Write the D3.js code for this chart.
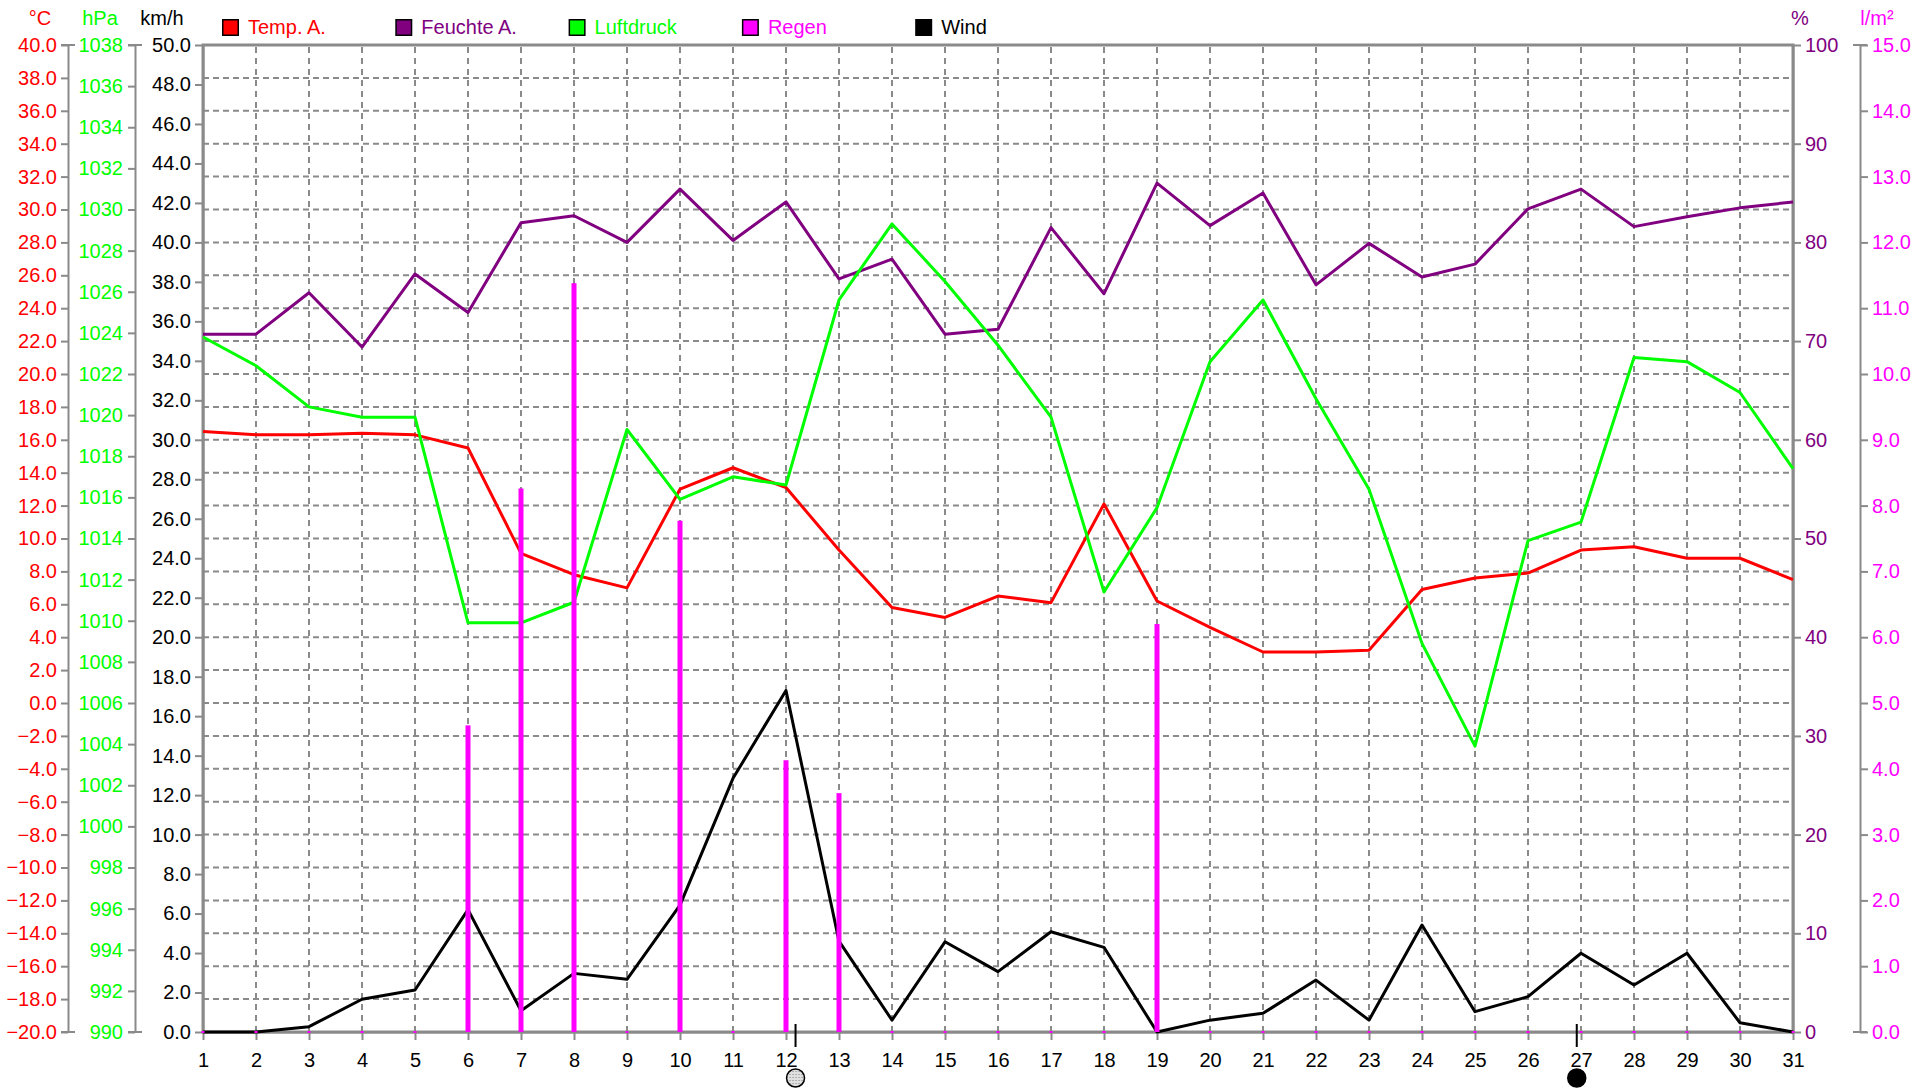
<!DOCTYPE html>
<html>
<head>
<meta charset="utf-8">
<script src="https://cdn.jsdelivr.net/npm/d3@7"></script>
<style>
  body { margin: 0; background: #fff; }
  svg { display: block; font-family: "Liberation Sans", Arial, sans-serif; }
</style>
</head>
<body>
<div id="chart"></div>
<script>
const width = 1929
const height = 1088
const plot = ({ left: 203, right: 1793, top: 45, bottom: 1032 })

// daily values
const days = [1,2,3,4,5,6,7,8,9,10,11,12,13,14,15,16,17,18,19,20,21,22,23,24,25,26,27,28,29,30,31]
const temp = [16.5,16.3,16.3,16.4,16.3,15.5,9.1,7.8,7.0,13.0,14.3,13.1,9.3,5.8,5.2,6.5,6.1,12.1,6.2,4.6,3.1,3.1,3.2,6.9,7.6,7.9,9.3,9.5,8.8,8.8,7.5]
const humidity = [70.7,70.7,74.9,69.4,76.8,72.9,82.0,82.7,80.0,85.4,80.2,84.1,76.3,78.3,70.7,71.2,81.5,74.8,86.0,81.7,85.0,75.7,79.9,76.5,77.8,83.4,85.4,81.6,82.6,83.5,84.1]
const pressure = [1023.8,1022.4,1020.4,1019.9,1019.9,1009.9,1009.9,1010.9,1019.3,1015.9,1017.0,1016.6,1025.6,1029.3,1026.5,1023.4,1019.9,1011.4,1015.5,1022.6,1025.6,1020.8,1016.4,1008.9,1003.9,1013.9,1014.8,1022.8,1022.6,1021.1,1017.4]
const rain = [0,0,0,0,0,4.66,8.26,11.38,0,7.77,0,4.13,3.63,0,0,0,0,0,6.2,0,0,0,0,0,0,0,0,0,0,0,0]
const wind = [0,0,0.27,1.66,2.13,6.2,1.08,2.97,2.67,6.43,12.85,17.3,4.6,0.6,4.57,3.06,5.08,4.29,0,0.6,0.95,2.63,0.6,5.42,1.03,1.79,3.99,2.38,3.99,0.47,0]

// axis ranges and ticks
const tempTicks = d3.range(-20, 40.1, 2)
const pressTicks = d3.range(990, 1038.1, 2)
const windTicks = d3.range(0, 50.1, 2)
const humTicks = d3.range(0, 100.1, 10)
const rainTicks = d3.range(0, 15.1, 1)

const legendItems = ['Temp. A.', 'Feuchte A.', 'Luftdruck', 'Regen', 'Wind']
const legendColors = ['#ff0000', '#800080', '#00ff00', '#ff00ff', '#000000']

// moon phases (day position)
const moons = [{ day: 12.18, phase: 'full' }, { day: 26.92, phase: 'new' }]

const gray = '#8a8a8a'
const fontSize = 20

const x = d3.scaleLinear().domain([1, 31]).range([plot.left, plot.right])
const yTemp = d3.scaleLinear().domain([-20, 40]).range([plot.bottom, plot.top])
const yPress = d3.scaleLinear().domain([990, 1038]).range([plot.bottom, plot.top])
const yWind = d3.scaleLinear().domain([0, 50]).range([plot.bottom, plot.top])
const yHum = d3.scaleLinear().domain([0, 100]).range([plot.bottom, plot.top])
const yRain = d3.scaleLinear().domain([0, 15]).range([plot.bottom, plot.top])

const svg = d3.select('#chart').append('svg')
  .attr('width', width)
  .attr('height', height)

const defs = svg.append('defs')
const pat = defs.append('pattern')
  .attr('id', 'moonhatch')
  .attr('width', 3).attr('height', 3)
  .attr('patternUnits', 'userSpaceOnUse')
pat.append('rect').attr('width', 3).attr('height', 3).attr('fill', '#e0e0e0')
pat.append('rect').attr('width', 1).attr('height', 1).attr('fill', '#808080')

// grid
svg.append('g')
  .selectAll('line')
  .data(days.slice(1, -1))
  .enter().append('line')
  .attr('x1', d => x(d)).attr('x2', d => x(d))
  .attr('y1', plot.top + 2).attr('y2', plot.bottom)
  .attr('stroke', gray)
  .attr('stroke-width', 2)
  .attr('stroke-dasharray', '6,5')

svg.append('g')
  .selectAll('line')
  .data(tempTicks.slice(1, -1))
  .enter().append('line')
  .attr('x1', plot.left).attr('x2', plot.right)
  .attr('y1', d => yTemp(d)).attr('y2', d => yTemp(d))
  .attr('stroke', gray)
  .attr('stroke-width', 2)
  .attr('stroke-dasharray', '6,4')

// axes
function styleAxis(g, color) {
  g.attr('font-size', fontSize).attr('font-family', null)
  g.select('.domain').attr('stroke', gray).attr('stroke-width', 2)
  g.selectAll('.tick line').attr('stroke', gray).attr('stroke-width', 2)
  g.selectAll('.tick text').attr('fill', color)
}

svg.append('g')
  .attr('transform', 'translate(68,0)')
  .call(d3.axisLeft(yTemp).tickValues(tempTicks).tickFormat(d3.format('.1f')).tickSize(7).tickSizeOuter(0).tickPadding(4))
  .call(g => styleAxis(g, '#ff0000'))

svg.append('g')
  .attr('transform', 'translate(135,0)')
  .call(d3.axisLeft(yPress).tickValues(pressTicks).tickFormat(d3.format('d')).tickSize(7).tickSizeOuter(0).tickPadding(5))
  .call(g => styleAxis(g, '#00ff00'))

svg.append('g')
  .attr('transform', 'translate(' + plot.left + ',0)')
  .call(d3.axisLeft(yWind).tickValues(windTicks).tickFormat(d3.format('.1f')).tickSize(8).tickSizeOuter(0).tickPadding(4))
  .call(g => styleAxis(g, '#000000'))

svg.append('g')
  .attr('transform', 'translate(' + plot.right + ',0)')
  .call(d3.axisRight(yHum).tickValues(humTicks).tickFormat(d3.format('d')).tickSize(8).tickSizeOuter(0).tickPadding(4))
  .call(g => styleAxis(g, '#800080'))

svg.append('g')
  .attr('transform', 'translate(1860,0)')
  .call(d3.axisRight(yRain).tickValues(rainTicks).tickFormat(d3.format('.1f')).tickSize(8).tickSizeOuter(0).tickPadding(4))
  .call(g => styleAxis(g, '#ff00ff'))

svg.append('g')
  .attr('transform', 'translate(0,' + plot.bottom + ')')
  .call(d3.axisBottom(x).tickValues(days).tickFormat(d3.format('d')).tickSize(8).tickSizeOuter(0).tickPadding(13))
  .call(g => styleAxis(g, '#000000'))

// end caps on the free standing axes
;[68, 135, 1860].forEach(ax => {
  ;[plot.top, plot.bottom].forEach(yy => {
    svg.append('line')
      .attr('x1', ax - 7).attr('x2', ax + 7)
      .attr('y1', yy).attr('y2', yy)
      .attr('stroke', gray).attr('stroke-width', 2)
  })
})

// plot frame
svg.append('rect')
  .attr('x', plot.left).attr('y', plot.top)
  .attr('width', plot.right - plot.left)
  .attr('height', plot.bottom - plot.top)
  .attr('fill', 'none')
  .attr('stroke', gray)
  .attr('stroke-width', 3)

// unit titles
const titles = [
  { t: '°C', x: 40, c: '#ff0000' },
  { t: 'hPa', x: 100, c: '#00ff00' },
  { t: 'km/h', x: 162, c: '#000000' },
  { t: '%', x: 1800, c: '#800080' },
  { t: 'l/m²', x: 1877, c: '#ff00ff' }
]
svg.append('g')
  .selectAll('text')
  .data(titles)
  .enter().append('text')
  .attr('x', d => d.x)
  .attr('y', 25)
  .attr('text-anchor', 'middle')
  .attr('font-size', fontSize)
  .attr('fill', d => d.c)
  .text(d => d.t)

// legend
const legend = svg.append('g')
  .selectAll('g')
  .data(legendItems)
  .enter().append('g')
  .attr('transform', (d, i) => 'translate(' + (222 + i * 173.3) + ',19)')
legend.append('rect')
  .attr('x', 0.75).attr('y', 0.75)
  .attr('width', 15.5).attr('height', 15.5)
  .attr('fill', (d, i) => legendColors[i])
  .attr('stroke', '#000')
  .attr('stroke-width', 1.5)
legend.append('text')
  .attr('x', 26)
  .attr('y', 15)
  .attr('font-size', fontSize)
  .attr('fill', (d, i) => legendColors[i])
  .text(d => d)

// lines
function drawLine(values, yScale, color) {
  const line = d3.line()
    .x((d, i) => x(days[i]))
    .y(d => yScale(d))
  svg.append('path')
    .attr('d', line(values))
    .attr('fill', 'none')
    .attr('stroke', color)
    .attr('stroke-width', 3)
    .attr('stroke-linejoin', 'round')
}

drawLine(temp, yTemp, '#ff0000')
drawLine(humidity, yHum, '#800080')
drawLine(pressure, yPress, '#00ff00')
drawLine(wind, yWind, '#000000')

// rain bars
svg.append('g')
  .selectAll('rect')
  .data(rain)
  .enter().append('rect')
  .attr('x', (d, i) => x(days[i]) - (d > 0 ? 2.5 : 1.5))
  .attr('width', d => d > 0 ? 5 : 3)
  .attr('y', d => d > 0 ? yRain(d) : plot.bottom - 1)
  .attr('height', d => d > 0 ? yRain(0) - yRain(d) : 2)
  .attr('fill', '#ff00ff')

// moon phases
const moon = svg.append('g')
  .selectAll('g')
  .data(moons)
  .enter().append('g')
  .attr('transform', d => 'translate(' + x(d.day) + ',0)')
moon.append('line')
  .attr('y1', plot.bottom - 8).attr('y2', plot.bottom + 15)
  .attr('stroke', '#000').attr('stroke-width', 2)
moon.append('circle')
  .attr('cy', 1078)
  .attr('r', 9)
  .attr('fill', d => d.phase === 'new' ? '#000' : 'url(#moonhatch)')
  .attr('stroke', '#000')
  .attr('stroke-width', 1.5)
</script>
</body>
</html>
